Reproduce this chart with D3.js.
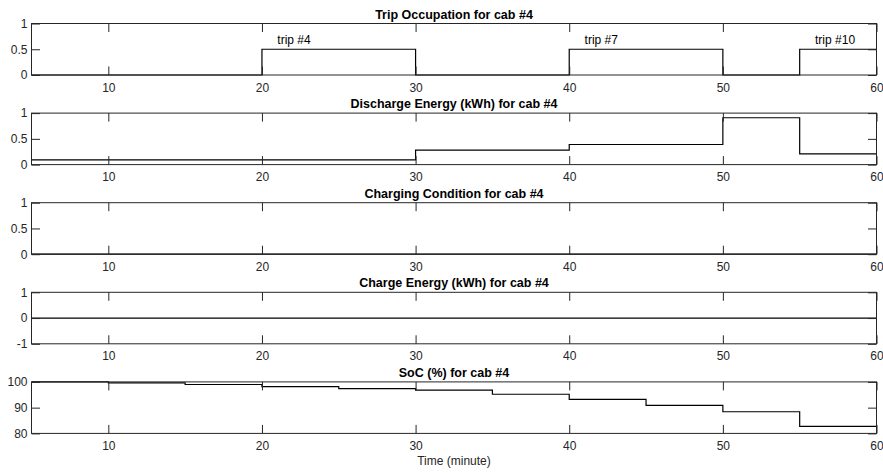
<!DOCTYPE html>
<html>
<head>
<meta charset="utf-8">
<script src="https://cdn.jsdelivr.net/npm/d3@7"></script>
<style>
  body { margin: 0; background: #fff; }
  svg { display: block; font-family: "Liberation Sans", Arial, Helvetica, sans-serif; }
</style>
</head>
<body>
<div id="chart"></div>
<script>
// time axis (minutes), one sample per 5-minute step
const times = [5, 10, 15, 20, 25, 30, 35, 40, 45, 50, 55, 60];
const xTicks = [10, 20, 30, 40, 50, 60];

// series (value held from each time until the next)
const tripOccupation   = [0, 0, 0, 0.5, 0.5, 0, 0, 0.5, 0.5, 0, 0.5, 0.5];
const dischargeEnergy  = [0.09, 0.09, 0.09, 0.09, 0.09, 0.28, 0.28, 0.39, 0.39, 0.91, 0.21, 0.21];
const chargingCondition = [0, 0, 0, 0, 0, 0, 0, 0, 0, 0, 0, 0];
const chargeEnergy     = [0, 0, 0, 0, 0, 0, 0, 0, 0, 0, 0, 0];
const soc              = [100, 99.6, 99.0, 98.2, 97.4, 96.8, 95.2, 93.2, 90.9, 88.4, 82.7, 82.7];

// trip annotations
const tripStarts = [20, 40, 55];
const tripLabels = ["trip #4", "trip #7", "trip #10"];

const panelTitles = [
  "Trip Occupation for cab #4",
  "Discharge Energy (kWh) for cab #4",
  "Charging Condition for cab #4",
  "Charge Energy (kWh) for cab #4",
  "SoC (%) for cab #4"
];
const panelSeries = [tripOccupation, dischargeEnergy, chargingCondition, chargeEnergy, soc];
const yDomains = [[0, 1], [0, 1], [0, 1], [-1, 1], [80, 100]];
const yTicks = [[0, 0.5, 1], [0, 0.5, 1], [0, 0.5, 1], [-1, 0, 1], [80, 90, 100]];
const xLabel = "Time (minute)";

const W = 883, H = 473;
const left = 31.5, right = 876.5;
const firstTop = 23.5, step = 89.6, ph = 51.5;
const tickLen = 8.5;
const axisColor = "#262626";

const svg = d3.select("#chart").append("svg")
  .attr("width", W).attr("height", H);

const x = d3.scaleLinear().domain([5, 60]).range([left, right]);

const fmt = d => String(d);

panelSeries.forEach((series, i) => {
  const top = firstTop + i * step;
  const bottom = top + ph;
  const y = d3.scaleLinear().domain(yDomains[i]).range([bottom, top]);
  const g = svg.append("g");

  // data line
  const line = d3.line()
    .x((d, j) => x(times[j]))
    .y(d => y(d))
    .curve(d3.curveStepAfter);
  g.append("path")
    .datum(series)
    .attr("d", line)
    .attr("fill", "none")
    .attr("stroke", "#000")
    .attr("stroke-width", 1.2);

  // bottom axis with labels
  g.append("g")
    .attr("transform", `translate(0,${bottom})`)
    .call(d3.axisBottom(x).tickValues(xTicks).tickFormat(fmt).tickSizeInner(-tickLen).tickSizeOuter(0).tickPadding(8))
    .call(a => a.select(".domain").remove());
  // top mirrored ticks
  g.append("g")
    .attr("transform", `translate(0,${top})`)
    .call(d3.axisTop(x).tickValues(xTicks).tickFormat("").tickSizeInner(-tickLen).tickSizeOuter(0))
    .call(a => a.select(".domain").remove());
  // left axis
  g.append("g")
    .attr("transform", `translate(${left},0)`)
    .call(d3.axisLeft(y).tickValues(yTicks[i]).tickFormat(fmt).tickSizeInner(-tickLen).tickSizeOuter(0).tickPadding(4))
    .call(a => a.select(".domain").remove());
  // right mirrored ticks
  g.append("g")
    .attr("transform", `translate(${right},0)`)
    .call(d3.axisRight(y).tickValues(yTicks[i]).tickFormat("").tickSizeInner(-tickLen).tickSizeOuter(0))
    .call(a => a.select(".domain").remove());

  g.selectAll(".tick line").attr("stroke", axisColor);
  g.selectAll(".tick text")
    .attr("fill", axisColor)
    .style("font-family", "'Liberation Sans', Arial, sans-serif")
    .style("font-size", "12px");

  // box
  g.append("rect")
    .attr("x", left).attr("y", top)
    .attr("width", right - left).attr("height", ph)
    .attr("fill", "none")
    .attr("stroke", axisColor)
    .attr("stroke-width", 1);

  // title
  g.append("text")
    .attr("x", (left + right) / 2)
    .attr("y", top - 5)
    .attr("text-anchor", "middle")
    .style("font-size", "12.5px")
    .style("font-weight", "bold")
    .attr("fill", "#000")
    .text(panelTitles[i]);

  if (i === 0) {
    g.selectAll(".trip-label")
      .data(tripStarts)
      .join("text")
      .attr("class", "trip-label")
      .attr("x", d => x(d + 1))
      .attr("y", y(0.67))
      .attr("dominant-baseline", "middle")
      .style("font-size", "12px")
      .attr("fill", "#000")
      .text((d, j) => tripLabels[j]);
  }

  if (i === panelSeries.length - 1) {
    svg.append("text")
      .attr("x", (left + right) / 2)
      .attr("y", bottom + 32)
      .attr("text-anchor", "middle")
      .style("font-size", "12px")
      .attr("fill", axisColor)
      .text(xLabel);
  }
});
</script>
</body>
</html>
